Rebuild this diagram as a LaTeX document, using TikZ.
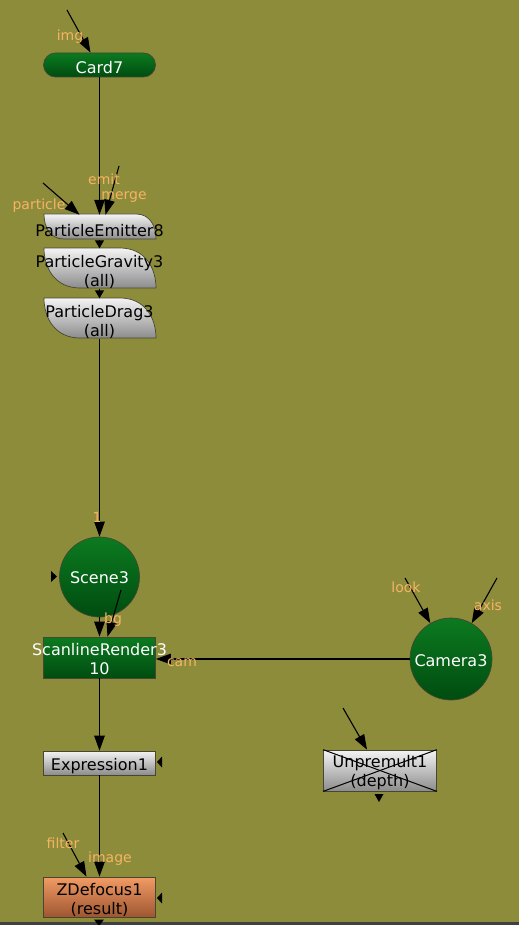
\documentclass[tikz,border=0pt]{standalone}
\usepackage{fontspec}
\setmainfont{DejaVu Sans}
\usetikzlibrary{arrows.meta,calc}
\definecolor{bgc}{RGB}{141,140,58}
\definecolor{lblc}{RGB}{245,180,100}
\definecolor{gtop}{RGB}{12,122,32}
\definecolor{gbot}{RGB}{0,76,16}
\definecolor{ytop}{RGB}{244,244,244}
\definecolor{ybot}{RGB}{140,140,140}
\definecolor{otop}{RGB}{242,155,101}
\definecolor{obot}{RGB}{158,86,48}
\definecolor{edgec}{RGB}{70,70,50}
\newcommand{\zw}[1]{\makebox[0pt][c]{#1}}
\tikzset{
  nfont/.style={font=\fontsize{16}{19}\selectfont},
  lbl/.style={font=\fontsize{14}{15}\selectfont, text=lblc, inner sep=0pt},
  greenbox/.style={draw=edgec, line width=0.7pt, top color=gtop, bottom color=gbot, inner sep=0pt},
  greybox/.style={draw=edgec, line width=0.7pt, top color=ytop, bottom color=ybot, inner sep=0pt},
  orangebox/.style={draw=edgec, line width=0.7pt, top color=otop, bottom color=obot, inner sep=0pt},
  partshape/.style={draw=edgec, line width=0.7pt, top color=ytop, bottom color=ybot},
  plain/.style={inner sep=0pt},
  wtext/.style={nfont, inner sep=0pt, align=center, text=white},
  btext/.style={nfont, inner sep=0pt, align=center, text=black},
  wire/.style={line width=1.1pt, draw=black, -{Triangle[length=15pt,width=10.5pt]}},
  shortwire/.style={line width=1.1pt, draw=black, -{Triangle[length=8pt,width=9pt]}},
  stub/.style={fill=black}
}
\begin{document}
\begin{tikzpicture}[x=1pt,y=-1pt]
\useasboundingbox (0,0) rectangle (519,925);
\fill[bgc] (0,0) rectangle (519,925);

% Particle node shapes
\shade[partshape] (44,214) -- (136,214) .. controls (150,214) and (156,226) .. (156,239) -- (64,239) .. controls (50,239) and (44,227) .. (44,214) -- cycle;
\shade[partshape] (44,248) -- (120,248) .. controls (145,248) and (156,268) .. (156,288) -- (80,288) .. controls (55,288) and (44,268) .. (44,248) -- cycle;
\shade[partshape] (44,298) -- (120,298) .. controls (145,298) and (156,318) .. (156,338) -- (80,338) .. controls (55,338) and (44,318) .. (44,298) -- cycle;

% Node bodies
\node[greenbox, rounded corners=12pt, minimum width=112pt, minimum height=24pt] (card) at (99.5,65) {};
\node[plain, minimum width=112pt, minimum height=25pt] (pe) at (99.5,227.5) {};
\node[plain, minimum width=112pt, minimum height=40pt] (pg) at (99.5,268.5) {};
\node[plain, minimum width=112pt, minimum height=40pt] (pd) at (99.5,318.5) {};
\node[greenbox, circle, minimum size=80pt] (scene) at (99.5,577) {};
\node[greenbox, minimum width=112pt, minimum height=41pt] (sr) at (99.5,657.5) {};
\node[greenbox, circle, minimum size=82pt] (cam) at (451,659) {};
\node[greybox, minimum width=112pt, minimum height=24pt] (expr) at (99.5,763) {};
\node[greybox, minimum width=113pt, minimum height=41pt] (unp) at (380,770.5) {};
\node[orangebox, minimum width=112pt, minimum height=40pt] (zd) at (99.5,897) {};

% Node texts
\node[wtext] (cardt) at ([yshift=-3pt]card.center) {Card7};
\node[btext] (pet) at ([yshift=-3pt]pe.center) {\zw{ParticleEmitter8}};
\node[btext] (pgt) at ([yshift=-3pt]pg.center) {\zw{ParticleGravity3}\\(all)};
\node[btext] (pdt) at ([yshift=-3pt]pd.center) {\zw{ParticleDrag3}\\(all)};
\node[wtext] (scenet) at ([yshift=-1pt]scene.center) {Scene3};
\node[wtext] (srt) at ([yshift=-2pt]sr.center) {\zw{ScanlineRender3}\\10};
\node[wtext] (camt) at ([yshift=-2pt]cam.center) {Camera3};
\node[btext] (exprt) at ([yshift=-3pt]expr.center) {Expression1};
\node[btext] (unpt) at ([yshift=-2pt]unp.center) {Unpremult1\\(depth)};
\node[btext] (zdt) at ([yshift=-3pt]zd.center) {ZDefocus1\\(result)};
\draw[line width=1pt] (unp.north west) -- (unp.south east);
\draw[line width=1pt] (unp.south west) -- (unp.north east);

% free ends
\coordinate (imgS) at (67,10);
\coordinate (mergeS) at (119,166);
\coordinate (partS) at (43,183);
\coordinate (bgS) at (121,590);
\coordinate (lookS) at (405,578);
\coordinate (axisS) at (497,578);
\coordinate (unpS) at (343,708);
\coordinate (filtS) at (63,833);

% connectors
\draw[wire] (imgS) -- ([xshift=-9pt]card.north);
\draw[wire] (card.south) -- (pe.north);
\draw[wire] (mergeS) -- ([xshift=6pt]pe.north);
\draw[wire] (partS) -- ([xshift=-20pt]pe.north);
\draw[shortwire] (pe.south) -- (pg.north);
\draw[shortwire] (pg.south) -- (pd.north);
\draw[wire] (pd.south) -- (scene.north);
\draw[wire] (scene.south) -- (sr.north);
\draw[wire] (bgS) -- ([xshift=8pt]sr.north);
\draw[wire] (cam.west) -- (cam.west -| sr.east);
\draw[wire] (lookS) -- (cam.120);
\draw[wire] (axisS) -- (cam.60);
\draw[wire] (sr.south) -- (expr.north);
\draw[wire] (unpS) -- ([xshift=-13pt]unp.north);
\draw[wire] (expr.south) -- (zd.north);
\draw[wire] (filtS) -- ([xshift=-13pt]zd.north);

% labels
\node[lbl] (limg) at (70,37) {img};
\node[lbl] (lemit) at (104,179) {emit};
\node[lbl] (lmerge) at (124,197) {merge};
\node[lbl] (lpart) at (39,206) {particle};
\node[lbl] (lone) at (97,517) {1};
\node[lbl] (lbg) at (113,620) {bg};
\node[lbl] (lcam) at (182,663) {cam};
\node[lbl] (llook) at (406,587) {look};
\node[lbl] (laxis) at (488,605) {axis};
\node[lbl] (lfilt) at (63,843) {filter};
\node[lbl] (limage) at (110,859) {image};

% stubs
\fill[stub] (51,571) -- (51,582) -- (57,576.5) -- cycle;
\fill[stub] (157,762) -- (162,756.5) -- (162,767.5) -- cycle;
\fill[stub] (157,898) -- (162,892.5) -- (162,903.5) -- cycle;
\fill[stub] (374.5,794) -- (383.5,794) -- (379,802) -- cycle;

% bottom bar
\fill[black!75] (0,921.5) rectangle (519,925);
\fill[stub] (94,919.5) -- (104,919.5) -- (99,926) -- cycle;
\end{tikzpicture}
\end{document}
